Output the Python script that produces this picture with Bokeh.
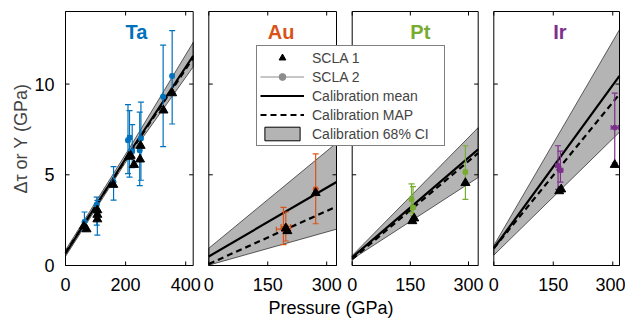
import math
from bokeh.plotting import figure
from bokeh.models import (Range1d, LinearAxis, FixedTicker, Legend, LegendItem,
                          Title, AllLabels)
from bokeh.embed import file_html
from bokeh.resources import INLINE
from bokeh.core.properties import value

FONT = "Liberation Sans"

# ---------------- data ----------------
MATERIALS = ["Ta", "Au", "Pt", "Ir"]
COLORS = ["#0072BD", "#D95319", "#77AC30", "#7E2F8E"]
X_MAX = [425, 325, 325, 317]
X_TICKS = [[0, 200, 400], [0, 150, 300], [0, 150, 300], [0, 150, 300]]
Y_TICKS = [0, 5, 10]
Y_MAX = 14
TITLE_X = [200, 150, 150, 150]
TITLE_Y = 12.85

# SCLA 1 (triangles)
TA_S1_P = [61, 70, 106, 106, 106, 159, 211, 217, 228, 248, 250, 326, 355]
TA_S1_Y = [2.16, 2.0, 3.05, 2.8, 2.55, 4.45, 6.0, 6.05, 5.55, 5.85, 6.6, 8.55, 9.5]
AU_S1_P = [196, 200, 272]
AU_S1_Y = [2.05, 1.9, 4.0]
PT_S1_P = [155, 160, 292]
PT_S1_Y = [2.45, 2.6, 4.55]
IR_S1_P = [165, 170, 305]
IR_S1_Y = [4.1, 4.2, 5.55]

# SCLA 2 (points with error bars)
TA_S2_P = [63, 104, 106, 160, 208, 213, 222, 247, 251, 325, 355]
TA_S2_Y = [2.4, 3.35, 2.9, 4.6, 6.9, 7.05, 6.3, 6.35, 7.0, 9.3, 10.45]
TA_S2_LO = [1.9, 2.22, 1.67, 3.6, 5.06, 4.87, 5.4, 4.4, 4.7, 6.55, 7.8]
TA_S2_HI = [2.95, 3.77, 3.59, 5.45, 8.87, 8.54, 7.77, 8.45, 9.0, 12.15, 12.95]
TA_S2_XE = [6, 6, 6, 6, 6, 6, 6, 6, 6, 6, 6]
AU_S2_P = [190, 196, 272]
AU_S2_Y = [2.0, 2.15, 4.2]
AU_S2_LO = [1.15, 1.35, 2.3]
AU_S2_HI = [3.2, 2.95, 6.15]
AU_S2_XE = [18, 12, 5]
PT_S2_P = [153, 157, 292]
PT_S2_Y = [3.65, 3.2, 5.15]
PT_S2_LO = [2.9, 2.75, 3.65]
PT_S2_HI = [4.5, 4.35, 6.6]
PT_S2_XE = [5, 5, 5]
IR_S2_P = [162, 168, 305]
IR_S2_Y = [5.5, 5.25, 7.6]
IR_S2_LO = [4.2, 4.6, 5.65]
IR_S2_HI = [6.6, 6.3, 9.5]
IR_S2_XE = [6, 6, 9]

# Calibration curves
TA_CAL_P = [0, 212, 425]
TA_CAL_MEAN = [0.66, 6.2, 11.56]
TA_CAL_MAP = [0.7, 6.15, 11.45]
TA_CAL_LO = [0.5, 6.0, 10.95]
TA_CAL_HI = [0.85, 6.45, 12.3]
AU_CAL_P = [0, 325]
AU_CAL_MEAN = [0.5, 4.6]
AU_CAL_MAP = [0.08, 3.25]
AU_CAL_LO = [0.02, 2.0]
AU_CAL_HI = [0.95, 6.75]
PT_CAL_P = [0, 325]
PT_CAL_MEAN = [0.45, 6.4]
PT_CAL_MAP = [0.35, 6.2]
PT_CAL_LO = [0.35, 4.85]
PT_CAL_HI = [0.55, 7.6]
IR_CAL_P = [0, 317]
IR_CAL_MEAN = [0.95, 10.45]
IR_CAL_MAP = [0.95, 9.45]
IR_CAL_LO = [0.57, 7.35]
IR_CAL_HI = [1.1, 13.0]

S1_P = [TA_S1_P, AU_S1_P, PT_S1_P, IR_S1_P]
S1_Y = [TA_S1_Y, AU_S1_Y, PT_S1_Y, IR_S1_Y]
S2_P = [TA_S2_P, AU_S2_P, PT_S2_P, IR_S2_P]
S2_Y = [TA_S2_Y, AU_S2_Y, PT_S2_Y, IR_S2_Y]
S2_LO = [TA_S2_LO, AU_S2_LO, PT_S2_LO, IR_S2_LO]
S2_HI = [TA_S2_HI, AU_S2_HI, PT_S2_HI, IR_S2_HI]
S2_XE = [TA_S2_XE, AU_S2_XE, PT_S2_XE, IR_S2_XE]
CAL_P = [TA_CAL_P, AU_CAL_P, PT_CAL_P, IR_CAL_P]
CAL_MEAN = [TA_CAL_MEAN, AU_CAL_MEAN, PT_CAL_MEAN, IR_CAL_MEAN]
CAL_MAP = [TA_CAL_MAP, AU_CAL_MAP, PT_CAL_MAP, IR_CAL_MAP]
CAL_LO = [TA_CAL_LO, AU_CAL_LO, PT_CAL_LO, IR_CAL_LO]
CAL_HI = [TA_CAL_HI, AU_CAL_HI, PT_CAL_HI, IR_CAL_HI]

# ---------------- layout (pixels) ----------------
PANEL_LEFT = [0.0, 143.3, 286.7, 428.3]
PANEL_W = [127.7, 127.7, 126.0, 125.7]
PANELS_W = 554.0
PANELS_H = 254.0
PAD = 1.0
TICK = 4.0

ypad = PAD * Y_MAX / PANELS_H
ypx = Y_MAX / PANELS_H
p = figure(frame_width=int(PANELS_W + 2 * PAD), frame_height=int(PANELS_H + 2 * PAD),
           x_range=Range1d(-PAD, PANELS_W + PAD), y_range=Range1d(-ypad, Y_MAX + ypad),
           x_axis_type=None, y_axis_type=None,
           min_border_left=64, min_border_right=5, min_border_top=10, min_border_bottom=52,
           output_backend="svg", toolbar_location=None)
p.outline_line_color = None
p.xgrid.visible = False
p.ygrid.visible = False
p.background_fill_color = "white"
p.border_fill_color = "white"

tick_pos = []
tick_lab = {}
for i, name in enumerate(MATERIALS):
    s = X_MAX[i] / PANEL_W[i]
    L = PANEL_LEFT[i]
    p.extra_x_ranges[name] = Range1d((-PAD - L) * s, (PANELS_W + PAD - L) * s)
    for v in X_TICKS[i]:
        pos = round(L + v / s, 3)
        tick_pos.append(pos)
        tick_lab[pos] = str(v)

# axes
xax = LinearAxis(ticker=FixedTicker(ticks=tick_pos), major_label_overrides=tick_lab,
                 major_label_policy=AllLabels())
xax.axis_line_color = None
xax.major_tick_line_color = None
xax.minor_tick_line_color = None
xax.major_label_standoff = 5
xax.major_label_text_font = FONT
xax.major_label_text_font_size = "18px"
xax.major_label_text_color = "black"
p.add_layout(xax, "below")

yax = LinearAxis(ticker=FixedTicker(ticks=Y_TICKS))
yax.axis_line_color = None
yax.major_tick_line_color = None
yax.minor_tick_line_color = None
yax.major_label_standoff = 4
yax.major_label_text_font = FONT
yax.major_label_text_font_size = "18px"
yax.major_label_text_color = "black"
yax.axis_label = "Δτ or Y (GPa)"
yax.axis_label_text_font = FONT
yax.axis_label_text_font_size = "18px"
yax.axis_label_text_font_style = "normal"
yax.axis_label_standoff = 0
p.add_layout(yax, "left")

xlabel = Title(text="Pressure (GPa)", align="left", offset=204, standoff=4,
               text_font=FONT, text_font_size="18px", text_font_style="normal",
               text_color="black")
p.add_layout(xlabel, "below")

dy = TICK * ypx
for i, name in enumerate(MATERIALS):
    c = COLORS[i]
    s = X_MAX[i] / PANEL_W[i]
    xm = X_MAX[i]
    # CI band
    bx = list(CAL_P[i]) + list(reversed(CAL_P[i]))
    by = list(CAL_LO[i]) + list(reversed(CAL_HI[i]))
    p.patch(bx, by, fill_color="#b4b4b4", line_color="black", line_width=0.6,
            x_range_name=name)
    p.line(CAL_P[i], CAL_MEAN[i], line_color="black", line_width=2.2, x_range_name=name)
    p.line(CAL_P[i], CAL_MAP[i], line_color="black", line_width=2.2, line_dash="6 4",
           x_range_name=name)
    # SCLA 2 error bars
    P2, Y2, LO2, HI2, XE2 = S2_P[i], S2_Y[i], S2_LO[i], S2_HI[i], S2_XE[i]
    p.segment(P2, LO2, P2, HI2, line_color=c, line_width=1.2, x_range_name=name)
    p.scatter(P2 + P2, LO2 + HI2, marker="dash", size=6, line_color=c, line_width=1.2,
              x_range_name=name)
    xl = [a - e for a, e in zip(P2, XE2)]
    xr = [a + e for a, e in zip(P2, XE2)]
    p.segment(xl, Y2, xr, Y2, line_color=c, line_width=1.2, x_range_name=name)
    p.scatter(xl + xr, Y2 + Y2, marker="dash", angle=math.pi / 2, size=5, line_color=c,
              line_width=1.2, x_range_name=name)
    p.scatter(P2, Y2, marker="circle", size=5, fill_color=c, line_color=c,
              x_range_name=name)
    # SCLA 1 triangles
    p.scatter(S1_P[i], S1_Y[i], marker="triangle", size=9, fill_color="black",
              line_color="black", x_range_name=name)
    # title
    p.text(x=[TITLE_X[i]], y=[TITLE_Y], text=[name], text_font=value(FONT),
           text_font_style="bold", text_font_size="20px", text_color=c,
           text_align="left", text_baseline="middle", x_range_name=name)
    # ticks (inward, all four sides)
    dx = TICK * s
    xt = X_TICKS[i]
    p.segment(xt, [Y_MAX] * len(xt), xt, [Y_MAX - dy] * len(xt), line_color="black",
              line_width=1, x_range_name=name)
    p.segment(xt, [0] * len(xt), xt, [dy] * len(xt), line_color="black",
              line_width=1, x_range_name=name)
    n = len(Y_TICKS)
    p.segment([0] * n, Y_TICKS, [dx] * n, Y_TICKS, line_color="black", line_width=1,
              x_range_name=name)
    p.segment([xm] * n, Y_TICKS, [xm - dx] * n, Y_TICKS, line_color="black",
              line_width=1, x_range_name=name)
    # box
    p.quad(left=[0], right=[xm], bottom=[0], top=[Y_MAX], fill_color=None,
           line_color="black", line_width=1, x_range_name=name)

# legend (proxy renderers with no visible data)
NAN = [float("nan")]
r_s1 = p.scatter(NAN, NAN, marker="triangle", size=9, fill_color="black", line_color="black")
r_s2a = p.line(NAN, NAN, line_color="#8c8c8c", line_width=1)
r_s2b = p.scatter(NAN, NAN, marker="circle", size=6, fill_color="#8c8c8c", line_color="#8c8c8c")
r_mean = p.line(NAN, NAN, line_color="black", line_width=2.2)
r_map = p.line(NAN, NAN, line_color="black", line_width=2.2, line_dash="6 4")
r_ci = p.patch(NAN, NAN, fill_color="#b4b4b4", line_color="black", line_width=1)
legend = Legend(items=[
    LegendItem(label="SCLA 1", renderers=[r_s1]),
    LegendItem(label="SCLA 2", renderers=[r_s2a, r_s2b]),
    LegendItem(label="Calibration mean", renderers=[r_mean]),
    LegendItem(label="Calibration MAP", renderers=[r_map]),
    LegendItem(label="Calibration 68% CI", renderers=[r_ci]),
], location=(192, 120))
legend.margin = 0
legend.padding = 3
legend.spacing = 2
legend.glyph_width = 44
legend.glyph_height = 17
legend.label_height = 17
legend.label_width = 129
legend.label_standoff = 8
legend.label_text_font = FONT
legend.label_text_font_size = "14px"
legend.border_line_color = "black"
legend.border_line_width = 1
legend.background_fill_color = "white"
legend.background_fill_alpha = 1.0
p.add_layout(legend)

open("out.html", "w").write(file_html(p, INLINE))
